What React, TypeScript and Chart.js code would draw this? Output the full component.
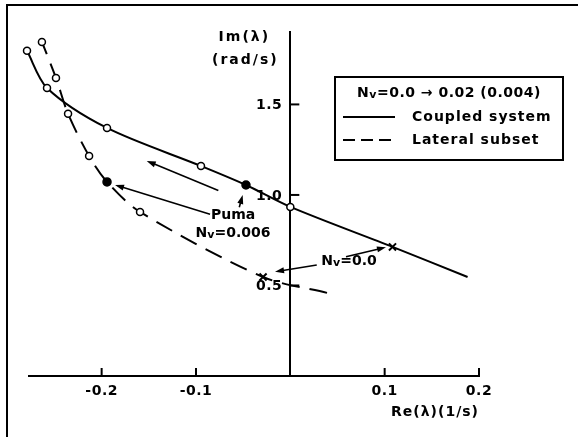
import React, { useEffect, useRef } from 'react';
import { Chart, registerables } from 'chart.js';

Chart.register(...registerables);

const FAMILY = '"DejaVu Sans", sans-serif';

// Axis ticks
const xTicks = [-0.2, -0.1, 0.1, 0.2];
const yTicks = [0.5, 1.0, 1.5];

// Coupled system (solid line), from the Nv<0 end through Nv=0.0 (x) to Nv=0.02
const coupledRe = [0.1879, 0.1083, 0.0, -0.047, -0.0947, -0.1943, -0.2579, -0.2791];
const coupledIm = [0.547, 0.713, 0.934, 1.055, 1.16, 1.37, 1.591, 1.796];
const coupledMark = ['none', 'cross', 'open', 'filled', 'open', 'open', 'open', 'open'];

// Lateral subset (dashed line)
const lateralRe = [0.0389, -0.0289, -0.1593, -0.1943, -0.2133, -0.2356, -0.2484, -0.2633];
const lateralIm = [0.459, 0.547, 0.906, 1.072, 1.215, 1.448, 1.646, 1.845];
const lateralMark = ['none', 'cross', 'open', 'filled', 'open', 'open', 'open', 'open'];

// Annotation arrows (data coordinates)
const arrowFromRe = [-0.0763, -0.0851, -0.0541, 0.059, 0.028];
const arrowFromIm = [1.024, 0.893, 0.932, 0.659, 0.613];
const arrowToRe = [-0.1522, -0.1858, -0.0505, 0.1014, -0.0162];
const arrowToIm = [1.188, 1.055, 1.0, 0.711, 0.576];

// Annotation texts (data coordinates, centred)
const noteRe = [-0.0607, -0.0607, 0.0622];
const noteIm = [0.89, 0.79, 0.635];
const noteText = ['Puma', 'Nv=0.006', 'Nv=0.0'];

const legendTitle = 'Nv=0.0 \u2192 0.02 (0.004)';
const legendItems = ['Coupled system', 'Lateral subset'];

const xTitle = 'Re(\u03bb)(1/s)';
const yTitle = ['Im(\u03bb)', '(rad/s)'];

function font(size: number, bold = true) {
  return `${bold ? 'bold ' : ''}${size}px ${FAMILY}`;
}

// Draw text where a leading "Nv" gets a subscript v
function drawRich(ctx: CanvasRenderingContext2D, text: string, x: number, y: number, size: number, align: 'left' | 'center' | 'right') {
  const parts: { t: string; sub: boolean }[] = [];
  if (text.startsWith('Nv')) {
    parts.push({ t: 'N', sub: false }, { t: 'v', sub: true }, { t: text.slice(2), sub: false });
  } else {
    parts.push({ t: text, sub: false });
  }
  const widths = parts.map((p) => {
    ctx.font = font(p.sub ? Math.round(size * 0.8) : size);
    return ctx.measureText(p.t).width;
  });
  const total = widths.reduce((a, b) => a + b, 0);
  let cx = align === 'left' ? x : align === 'center' ? x - total / 2 : x - total;
  ctx.textAlign = 'left';
  ctx.textBaseline = 'middle';
  parts.forEach((p, i) => {
    ctx.font = font(p.sub ? Math.round(size * 0.8) : size);
    ctx.fillText(p.t, cx, y + (p.sub ? 2.5 : 0));
    cx += widths[i];
  });
}

function arrow(ctx: CanvasRenderingContext2D, x1: number, y1: number, x2: number, y2: number) {
  const ang = Math.atan2(y2 - y1, x2 - x1);
  const len = 9;
  const w = 3;
  ctx.beginPath();
  ctx.moveTo(x1, y1);
  ctx.lineTo(x2 - Math.cos(ang) * len * 0.7, y2 - Math.sin(ang) * len * 0.7);
  ctx.lineWidth = 1.6;
  ctx.stroke();
  ctx.beginPath();
  ctx.moveTo(x2, y2);
  ctx.lineTo(x2 - Math.cos(ang) * len - Math.sin(ang) * w, y2 - Math.sin(ang) * len + Math.cos(ang) * w);
  ctx.lineTo(x2 - Math.cos(ang) * len + Math.sin(ang) * w, y2 - Math.sin(ang) * len - Math.cos(ang) * w);
  ctx.closePath();
  ctx.fill();
}

const decor = {
  id: 'decor',
  beforeDraw(chart: any) {
    const ctx = chart.ctx;
    ctx.save();
    ctx.fillStyle = '#000';
    // outer frame (top and left edges)
    ctx.fillRect(6, 4, chart.width - 6, 2);
    ctx.fillRect(6, 4, 2, chart.height - 4);
    ctx.restore();
  },
  afterDraw(chart: any) {
    const ctx = chart.ctx;
    const xs = chart.scales.x;
    const ys = chart.scales.y;
    const area = chart.chartArea;
    const x0 = xs.getPixelForValue(0);
    const y0 = ys.getPixelForValue(0);
    ctx.save();
    ctx.strokeStyle = '#000';
    ctx.fillStyle = '#000';
    ctx.lineWidth = 2;
    // tick marks and labels: y ticks point right (labels left), x ticks point up (labels below)
    ctx.letterSpacing = '0.5px';
    ctx.font = font(14);
    ctx.textBaseline = 'middle';
    yTicks.forEach((v) => {
      const py = ys.getPixelForValue(v);
      ctx.beginPath();
      ctx.moveTo(x0, py);
      ctx.lineTo(x0 + 9, py);
      ctx.stroke();
      ctx.textAlign = 'right';
      ctx.fillText(v.toFixed(1), x0 - 8, py + 1);
    });
    xTicks.forEach((v) => {
      const px = xs.getPixelForValue(v);
      ctx.beginPath();
      ctx.moveTo(px, y0);
      ctx.lineTo(px, y0 - 8);
      ctx.stroke();
      ctx.textAlign = 'center';
      ctx.fillText(v.toFixed(1), px, y0 + 15);
    });
    // axis titles
    ctx.letterSpacing = '1px';
    ctx.font = font(14);
    ctx.textAlign = 'right';
    ctx.fillText(xTitle, area.right, y0 + 36);
    ctx.letterSpacing = '2px';
    ctx.textAlign = 'center';
    ctx.fillText(yTitle[0], x0 - 46, area.top + 5);
    ctx.fillText(yTitle[1], x0 - 45, area.top + 28);

    // arrows
    arrowFromRe.forEach((_, i) => {
      arrow(
        ctx,
        xs.getPixelForValue(arrowFromRe[i]),
        ys.getPixelForValue(arrowFromIm[i]),
        xs.getPixelForValue(arrowToRe[i]),
        ys.getPixelForValue(arrowToIm[i])
      );
    });
    // notes
    ctx.letterSpacing = '0px';
    noteText.forEach((t, i) => {
      drawRich(ctx, t, xs.getPixelForValue(noteRe[i]), ys.getPixelForValue(noteIm[i]), 14, 'center');
    });

    // legend box
    const bx = 335, by = 77, bw = 228, bh = 83;
    ctx.lineWidth = 2;
    ctx.strokeRect(bx, by, bw, bh);
    ctx.letterSpacing = '0.5px';
    drawRich(ctx, legendTitle, bx + bw / 2, by + 16, 14, 'center');
    ctx.letterSpacing = '1px';
    legendItems.forEach((t, i) => {
      const ly = by + 40 + i * 23;
      ctx.beginPath();
      ctx.lineWidth = 2;
      ctx.setLineDash(i === 0 ? [] : [12, 6]);
      ctx.moveTo(bx + 8, ly);
      ctx.lineTo(bx + 60, ly);
      ctx.stroke();
      ctx.setLineDash([]);
      ctx.font = font(14);
      ctx.textAlign = 'left';
      ctx.textBaseline = 'middle';
      ctx.fillText(t, bx + 77, ly);
    });
    ctx.restore();
  },
};

function makeDataset(re: number[], im: number[], marks: string[], dash: number[], label: string) {
  return {
    label,
    data: re.map((x, i) => ({ x, y: im[i] })),
    borderColor: '#000',
    borderWidth: 2,
    borderDash: dash,
    tension: 0.3,
    fill: false,
    clip: false,
    pointStyle: marks.map((m) => (m === 'cross' ? 'crossRot' : 'circle')),
    pointRadius: marks.map((m) => (m === 'none' ? 0 : m === 'cross' ? 5 : m === 'filled' ? 4 : 3.5)),
    pointBackgroundColor: marks.map((m) => (m === 'filled' ? '#000' : '#fff')),
    pointBorderColor: '#000',
    pointBorderWidth: marks.map((m) => (m === 'cross' ? 2 : 1.5)),
  };
}

export default function App() {
  const ref = useRef<HTMLCanvasElement>(null);
  useEffect(() => {
    if (!ref.current) return;
    const chart = new Chart(ref.current, {
      type: 'line',
      data: {
        datasets: [
          makeDataset(coupledRe, coupledIm, coupledMark, [], 'Coupled system'),
          makeDataset(lateralRe, lateralIm, lateralMark, [18, 10], 'Lateral subset'),
        ] as any,
      },
      options: {
        animation: false,
        responsive: false,
        devicePixelRatio: 1,
        layout: { padding: { left: 29, right: 99, top: 32, bottom: 61 } },
        plugins: { legend: { display: false }, tooltip: { enabled: false } },
        scales: {
          x: {
            type: 'linear',
            position: 'bottom',
            min: -0.277,
            max: 0.2,
            afterBuildTicks: (s: any) => {
              s.ticks = xTicks.map((v) => ({ value: v }));
            },
            grid: { display: false, drawTicks: false },
            border: { display: true, color: '#000', width: 2 },
            ticks: { display: false },
            title: { display: false },
          },
          y: {
            type: 'linear',
            position: { x: 0 } as any,
            min: 0,
            max: 1.9,
            afterBuildTicks: (s: any) => {
              s.ticks = yTicks.map((v) => ({ value: v }));
            },
            grid: { display: false, drawTicks: false },
            border: { display: true, color: '#000', width: 2 },
            ticks: { display: false },
          },
        },
      } as any,
      plugins: [decor],
    });
    return () => chart.destroy();
  }, []);
  return (
    <div style={{ position: 'absolute', left: 0, top: 0, width: 578, height: 437, background: '#fff' }}>
      <canvas ref={ref} width={578} height={437} style={{ display: 'block' }} />
    </div>
  );
}
